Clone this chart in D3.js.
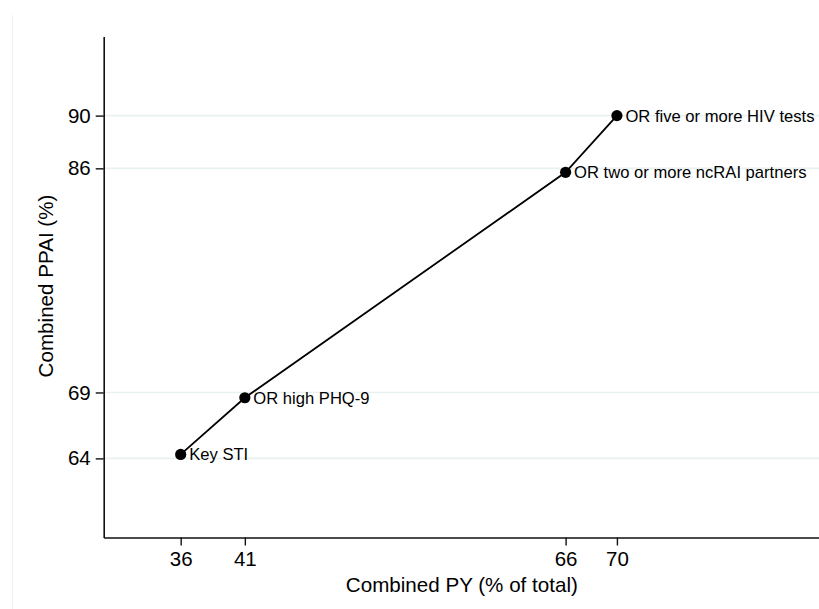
<!DOCTYPE html>
<html>
<head>
<meta charset="utf-8">
<script src="https://cdn.jsdelivr.net/npm/d3@7"></script>
<style>
  html, body { margin: 0; padding: 0; background: #fff; }
  svg { display: block; font-family: "Liberation Sans", Arial, sans-serif; }
</style>
</head>
<body>
<svg id="chart" width="819" height="609"></svg>
<script>
// Combined PY vs combined PPAI for successively added criteria
const labels = ["Key STI", "OR high PHQ-9", "OR two or more ncRAI partners", "OR five or more HIV tests"];
const pyValues = [36, 41, 66, 70];
const ppaiValues = [64.3, 68.6, 85.7, 90.0];
const xTicks = [36, 41, 66, 70];
const yTicks = [64, 69, 86, 90];

const svg = d3.select("#chart");
const W = 819, H = 609;

const x = d3.scaleLinear().domain([30, 85.75]).range([103.7, 819]);
const y = d3.scaleLinear().domain([58, 96]).range([537.5, 36.5]);

// faint graph-region edge
svg.append("line")
  .attr("x1", 12.5).attr("x2", 12.5).attr("y1", 15).attr("y2", H)
  .attr("stroke", "#f1f1f1").attr("stroke-width", 1);

// horizontal grid at tick values
svg.append("g").selectAll("line").data(yTicks).join("line")
  .attr("x1", x(30)).attr("x2", W)
  .attr("y1", d => y(d)).attr("y2", d => y(d))
  .attr("stroke", "#eaf1f3").attr("stroke-width", 1.6);

// y axis
const yAxis = svg.append("g")
  .attr("transform", `translate(${x(30)},0)`)
  .call(d3.axisLeft(y).tickValues(yTicks).tickSize(8).tickPadding(5).tickSizeOuter(0));
yAxis.select(".domain").attr("stroke", "#111").attr("stroke-width", 1.6);
yAxis.selectAll(".tick line").attr("stroke", "#111").attr("stroke-width", 1.4);
yAxis.selectAll(".tick text").attr("font-size", 20.5).attr("fill", "#000")
  .attr("font-family", "Liberation Sans, Arial, sans-serif");

// x axis
const xAxis = svg.append("g")
  .attr("transform", `translate(0,${y(58)})`)
  .call(d3.axisBottom(x).tickValues(xTicks).tickSize(8).tickPadding(6).tickSizeOuter(0));
xAxis.select(".domain").attr("stroke", "#111").attr("stroke-width", 1.6);
xAxis.selectAll(".tick line").attr("stroke", "#111").attr("stroke-width", 1.4);
xAxis.selectAll(".tick text").attr("font-size", 20.5).attr("fill", "#000")
  .attr("font-family", "Liberation Sans, Arial, sans-serif");

// axis titles
svg.append("text")
  .attr("x", (x(30) + W) / 2 + 0.5).attr("y", 592)
  .attr("text-anchor", "middle").attr("font-size", 20.6).attr("fill", "#000")
  .text("Combined PY (% of total)");

svg.append("text")
  .attr("transform", `translate(53,${(y(58) + y(96)) / 2 - 1}) rotate(-90)`)
  .attr("text-anchor", "middle").attr("font-size", 20.6).attr("fill", "#000")
  .text("Combined PPAI (%)");

// connected points
const pts = labels.map((l, i) => ({ label: l, px: pyValues[i], pp: ppaiValues[i] }));

svg.append("path")
  .datum(pts)
  .attr("fill", "none").attr("stroke", "#000").attr("stroke-width", 1.8)
  .attr("d", d3.line().x(d => x(d.px)).y(d => y(d.pp)));

svg.append("g").selectAll("circle").data(pts).join("circle")
  .attr("cx", d => x(d.px)).attr("cy", d => y(d.pp)).attr("r", 5.6)
  .attr("fill", "#000");

svg.append("g").selectAll("text").data(pts).join("text")
  .attr("x", d => x(d.px) + 8.5).attr("y", d => y(d.pp))
  .attr("dy", "0.36em")
  .attr("font-size", 16.6).attr("fill", "#000")
  .text(d => d.label);
</script>
</body>
</html>
